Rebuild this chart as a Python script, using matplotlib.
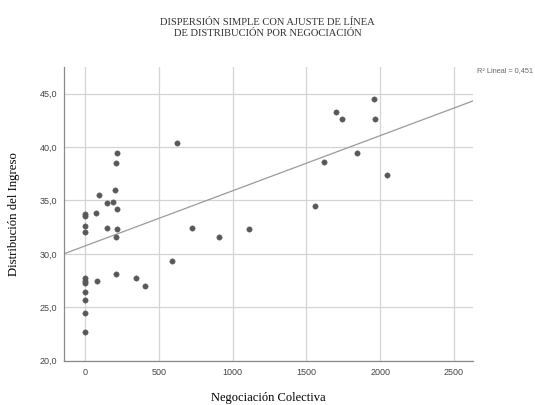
import numpy as np
import matplotlib
matplotlib.use("Agg")
import matplotlib.pyplot as plt
from matplotlib.ticker import FuncFormatter

# Negociación Colectiva vs Distribución del Ingreso
negociacion = [
    0, 0, 0, 0, 0, 0, 0, 0, 0, 0, 0,
    95, 73, 149, 190, 201, 208, 217, 213, 149, 217, 208,
    620, 77, 208, 344, 405, 586, 722, 905, 1113,
    1959, 1701, 1744, 1965, 1841, 1622, 2049, 1558,
]
distribucion = [
    33.7, 33.5, 32.6, 32.0, 27.7, 27.5, 27.3, 26.4, 25.7, 24.5, 22.7,
    35.5, 33.8, 34.8, 34.9, 36.0, 38.5, 39.4, 34.2, 32.4, 32.3, 31.6,
    40.4, 27.5, 28.1, 27.7, 27.0, 29.3, 32.4, 31.6, 32.3,
    44.5, 43.3, 42.6, 42.6, 39.4, 38.6, 37.4, 34.5,
]
# ajuste lineal tal como aparece en el gráfico
intercepto = 30.75
pendiente = 0.00516
x_ticks = [0, 500, 1000, 1500, 2000, 2500]
y_ticks = [20, 25, 30, 35, 40, 45]
r2_texto = "R² Lineal = 0,451"

x = np.array(negociacion)
y = np.array(distribucion)

fig = plt.figure(figsize=(5.35, 4.05), dpi=100)
ax = fig.add_axes([0.1196, 0.1096, 0.7645, 0.725])

xmin, xmax = -145, 2630
ax.set_xlim(xmin, xmax)
ax.set_ylim(20, 47.5)

ax.grid(True, color="#d4d4d4", linewidth=0.9)
ax.set_axisbelow(True)
ax.set_xticks(x_ticks)
ax.set_yticks(y_ticks)
ax.yaxis.set_major_formatter(FuncFormatter(lambda v, p: f"{v:.1f}".replace(".", ",")))
ax.tick_params(length=0, labelsize=6.5, colors="#444444", pad=5)
for lab in ax.get_xticklabels() + ax.get_yticklabels():
    lab.set_family("Liberation Sans")

for s in ["top", "right"]:
    ax.spines[s].set_visible(False)
for s in ["left", "bottom"]:
    ax.spines[s].set_color("#8a8a8a")
    ax.spines[s].set_linewidth(0.9)

xs = np.array([xmin, xmax])
ax.plot(xs, intercepto + pendiente * xs, color="#9a9a9a", linewidth=0.9, zorder=2)
ax.scatter(x, y, s=15, color="#595959", edgecolors="#595959", linewidths=0.3, zorder=3)

ax.set_xlabel("Negociación Colectiva", family="Liberation Serif", fontsize=9, labelpad=11)
ax.set_ylabel("Distribución del Ingreso", family="Liberation Serif", fontsize=9.2, labelpad=14)

fig.text(0.5, 0.955, "DISPERSIÓN SIMPLE CON AJUSTE DE LÍNEA\nDE DISTRIBUCIÓN POR NEGOCIACIÓN",
         ha="center", va="top", family="Liberation Serif", fontsize=7.6,
         linespacing=1.25, color="#333333")
fig.text(0.892, 0.826, r2_texto, ha="left", va="center", family="Liberation Sans",
         fontsize=5.3, color="#666666")

fig.savefig("out.png", dpi=100)
